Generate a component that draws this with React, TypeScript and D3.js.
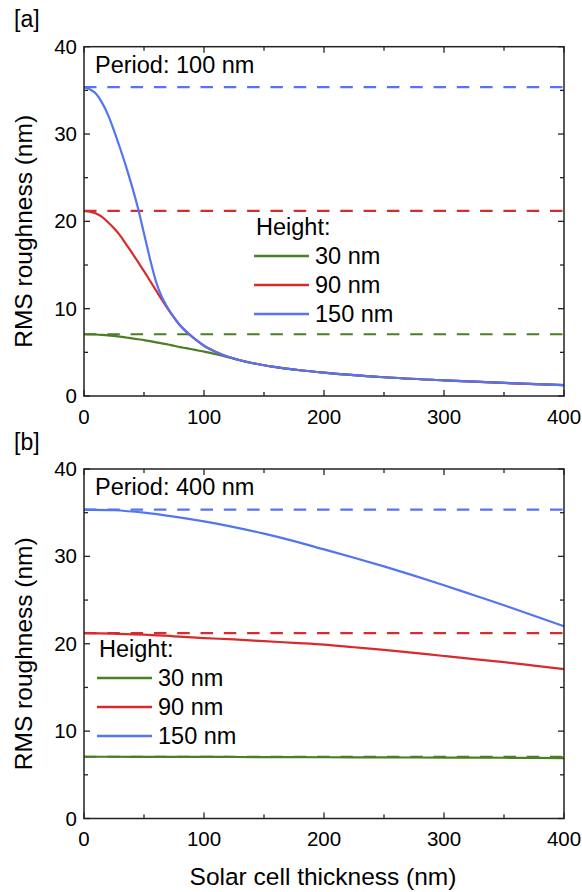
import React from "react";
import * as d3 from "d3";

const heights = ["30 nm", "90 nm", "150 nm"];
const colors = ["#4a7f24", "#d62c2c", "#5375f0"];
const flatValues = [7.07, 21.21, 35.36];

const xTicks = [0, 100, 200, 300, 400];
const yTicks = [0, 10, 20, 30, 40];

// Panel a: period 100 nm
const xsA = [0, 5, 10, 15, 20, 25, 30, 35, 40, 45, 50, 55, 60, 65, 70, 75, 80, 85, 90, 95, 100, 110, 120, 130, 140, 150, 160, 180, 200, 250, 300, 350, 400];
const greenA = [7.07, 7.06, 7.04, 7.0, 6.95, 6.88, 6.8, 6.7, 6.6, 6.5, 6.4, 6.28, 6.15, 6.02, 5.9, 5.75, 5.6, 5.48, 5.35, 5.21, 5.08, 4.78, 4.45, 4.1, 3.78, 3.52, 3.3, 2.95, 2.67, 2.15, 1.8, 1.5, 1.25];
const redA = [21.21, 21.1, 20.9, 20.5, 19.9, 19.2, 18.4, 17.4, 16.4, 15.35, 14.3, 13.2, 12.1, 11.0, 9.95, 8.98, 8.1, 7.4, 6.8, 6.25, 5.75, 5.05, 4.5, 4.1, 3.78, 3.52, 3.3, 2.95, 2.67, 2.15, 1.8, 1.5, 1.25];
const blueA = [35.36, 35.1, 34.6, 33.6, 32.2, 30.4, 28.4, 26.3, 24.0, 21.5, 18.6, 15.7, 13.1, 11.3, 10.05, 9.0, 8.1, 7.4, 6.8, 6.25, 5.75, 5.05, 4.5, 4.1, 3.78, 3.52, 3.3, 2.95, 2.67, 2.15, 1.8, 1.5, 1.25];

// Panel b: period 400 nm
const xsB = [0, 25, 50, 75, 100, 125, 150, 175, 200, 225, 250, 275, 300, 325, 350, 375, 400];
const greenB = [7.07, 7.07, 7.06, 7.05, 7.05, 7.04, 7.03, 7.02, 7.01, 7.0, 6.99, 6.98, 6.97, 6.96, 6.95, 6.93, 6.92];
const redB = [21.21, 21.15, 21.05, 20.85, 20.65, 20.5, 20.3, 20.1, 19.9, 19.6, 19.3, 18.95, 18.6, 18.25, 17.9, 17.5, 17.1];
const blueB = [35.36, 35.28, 35.0, 34.55, 34.0, 33.35, 32.6, 31.75, 30.8, 29.85, 28.85, 27.8, 26.7, 25.55, 24.4, 23.2, 22.0];

const FONT = "'Liberation Sans', Arial, sans-serif";

type PanelProps = {
  top: number;
  bottom: number;
  tag: string;
  period: string;
  xs: number[];
  series: number[][];
  legendX: number;
  legendY: number;
};

function Panel({ top, bottom, tag, period, xs, series, legendX, legendY }: PanelProps) {
  const left = 84;
  const right = 564;
  const x = d3.scaleLinear().domain([0, 400]).range([left, right]);
  const y = d3.scaleLinear().domain([0, 40]).range([bottom, top]);
  const line = d3
    .line<number>()
    .x((_, i) => x(xs[i]))
    .y((d) => y(d))
    .curve(d3.curveMonotoneX);
  const xMinor = d3.range(0, 401, 50);
  const yMinor = d3.range(0, 41, 5);
  return (
    <g>
      <text x={14} y={top - 19.5} fontSize={23} fontFamily={FONT}>{tag}</text>
      {flatValues.map((v, i) => (
        <line key={"d" + i} x1={x(0)} x2={x(400)} y1={y(v)} y2={y(v)} stroke={colors[i]} strokeWidth={2.2} strokeDasharray="12.5,10.8" />
      ))}
      {series.map((s, i) => (
        <path key={"s" + i} d={line(s) || ""} fill="none" stroke={colors[i]} strokeWidth={2.2} />
      ))}
      <rect x={left} y={top} width={right - left} height={bottom - top} fill="none" stroke="#222" strokeWidth={1.5} />
      {xMinor.map((v) => {
        const len = v % 100 === 0 ? 6 : 4;
        return (
          <g key={"xt" + v}>
            <line x1={x(v)} x2={x(v)} y1={bottom} y2={bottom - len} stroke="#222" strokeWidth={1.3} />
            <line x1={x(v)} x2={x(v)} y1={top} y2={top + len} stroke="#222" strokeWidth={1.3} />
          </g>
        );
      })}
      {yMinor.map((v) => {
        const len = v % 10 === 0 ? 6 : 4;
        return (
          <g key={"yt" + v}>
            <line x1={left} x2={left + len} y1={y(v)} y2={y(v)} stroke="#222" strokeWidth={1.3} />
            <line x1={right} x2={right - len} y1={y(v)} y2={y(v)} stroke="#222" strokeWidth={1.3} />
          </g>
        );
      })}
      {xTicks.map((v) => (
        <text key={"xl" + v} x={x(v)} y={bottom + 27.5} fontSize={20.5} fontFamily={FONT} textAnchor="middle">{v}</text>
      ))}
      {yTicks.map((v) => (
        <text key={"yl" + v} x={77} y={y(v) + 7} fontSize={20.5} fontFamily={FONT} textAnchor="end">{v}</text>
      ))}
      <text transform={`translate(31.5, ${(top + bottom) / 2 + 10}) rotate(-90)`} fontSize={24.5} fontFamily={FONT} textAnchor="middle">RMS roughness (nm)</text>
      <text x={95} y={top + 26} fontSize={23.5} fontFamily={FONT}>{period}</text>
      <text x={legendX + 2} y={legendY} fontSize={23.5} fontFamily={FONT}>Height:</text>
      {heights.map((h, i) => (
        <g key={"lg" + i}>
          <line x1={legendX} x2={legendX + 55} y1={legendY + 21 + i * 29} y2={legendY + 21 + i * 29} stroke={colors[i]} strokeWidth={2.4} />
          <text x={legendX + 61} y={legendY + 29 + i * 29} fontSize={23.5} fontFamily={FONT}>{h}</text>
        </g>
      ))}
    </g>
  );
}

export default function App() {
  return (
    <svg width={582} height={892} style={{ position: "absolute", left: 0, top: 0, background: "#fff" }}>
      <Panel top={46.7} bottom={396} tag="[a]" period="Period: 100 nm" xs={xsA} series={[greenA, redA, blueA]} legendX={254} legendY={235} />
      <Panel top={469} bottom={818.5} tag="[b]" period="Period: 400 nm" xs={xsB} series={[greenB, redB, blueB]} legendX={97} legendY={657} />
      <text x={323} y={885} fontSize={24.5} fontFamily={FONT} textAnchor="middle">Solar cell thickness (nm)</text>
    </svg>
  );
}
